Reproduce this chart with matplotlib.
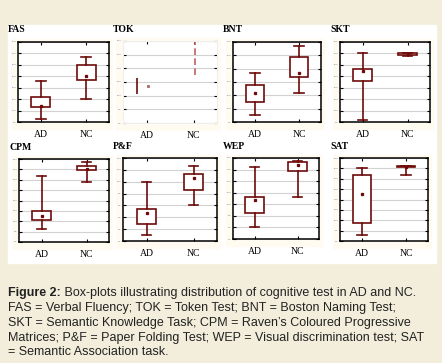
import matplotlib
matplotlib.use("Agg")
import matplotlib.pyplot as plt
import numpy as np
from matplotlib.patches import Rectangle

W, H = 442, 363

# data: [whisker low, q1, mean, q3, whisker high] per group
tests = ["FAS", "TOK", "BNT", "SKT", "CPM", "P&F", "WEP", "SAT"]
groups = ["AD", "NC"]
ymax = [70, 36, 60, 70, 40, 14, 28, 48]
ystep = [10, 6, 10, 10, 5, 2, 4, 6]
ad_stats = [
    [3, 13, 14, 22, 36],
    [12.6, 16.2, 16.2, 16.2, 19.9],
    [5, 15, 22, 28, 37],
    [2, 36, 45, 46, 60],
    [6.3, 10.4, 12.3, 14.9, 32],
    [1.0, 2.8, 4.7, 5.4, 9.9],
    [4.0, 8.9, 13.4, 14.4, 24.8],
    [3.5, 10.6, 27.1, 38.3, 42.5],
]
nc_stats = [
    [20, 37, 40, 50, 57],
    [21, 36, 36, 36, 36],
    [22, 34, 37, 49, 57],
    [57.7, 58.3, 59.5, 60.6, 60.6],
    [28.8, 34.5, 35.4, 36.5, 38.4],
    [6.1, 8.6, 10.7, 11.3, 12.7],
    [14.4, 23.5, 25.6, 26.6, 26.9],
    [38, 42.7, 43, 43.3, 43.3],
]

# axes boxes in pixels (left, top, right, bottom)
boxes = [
    (18, 42, 109, 122), (123, 41, 217, 123), (233, 42, 321, 122), (340, 42, 430, 122),
    (19, 159, 109, 242), (123, 158, 217, 241), (233, 158, 319, 239), (340, 158, 428, 241),
]

red = "#6e0a0a"
bg = "#f2eedb"
cream = "#fffbf0"


def px(l, t, r, b):
    return [l / W, 1 - b / H, (r - l) / W, (b - t) / H]


fig = plt.figure(figsize=(W / 100, H / 100), dpi=100, facecolor=bg)
# white panel behind the plots
fig.patches.append(Rectangle((8 / W, 1 - 263 / H), 428 / W, 238 / H,
                             transform=fig.transFigure, color="white", zorder=-2))

for i, name in enumerate(tests):
    l, t, r, b = boxes[i]
    fig.patches.append(Rectangle(((l - 7) / W, 1 - (b + 7) / H), (r - l + 10) / W, (b - t + 10) / H,
                                 transform=fig.transFigure, color=cream, zorder=-1))
    ax = fig.add_axes(px(l, t, r, b))
    ax.set_facecolor("white")
    ax.set_ylim(0, ymax[i])
    ax.set_yticks(np.arange(0, ymax[i] + 0.01, ystep[i]))
    ax.set_yticklabels([str(v) for v in np.arange(0, ymax[i] + 0.01, ystep[i])], fontsize=1.5, color="#5a6aa0")
    ax.tick_params(axis="x", length=2, pad=6, top=True, direction="in")
    ax.tick_params(axis="y", length=2, pad=1, right=True, direction="in")
    ax.grid(axis="y", color="#d2d2d2", lw=0.8)
    ax.set_axisbelow(True)
    fig.text((l - 10) / W, 1 - (t - 12) / H, name, fontsize=7, fontweight="bold",
             family="Liberation Serif", va="center", ha="left")

    if name == "TOK":
        for s in ax.spines.values():
            s.set_color("#eeeeee")
        ax.vlines(0.8, ad_stats[i][0], ad_stats[i][4], color=red, lw=1.2)
        ax.plot(1.03, ad_stats[i][2], "s", color="#b07070", ms=1.2)
        ax.vlines(2.03, nc_stats[i][0], nc_stats[i][4], color="#c06060", lw=1.2, linestyles=(0, (4, 2)))
    else:
        for s in ax.spines.values():
            s.set_color("black")
            s.set_linewidth(1.1)
        stats = []
        for st, lab in zip([ad_stats[i], nc_stats[i]], groups):
            stats.append(dict(whislo=st[0], q1=st[1], mean=st[2], med=st[2], q3=st[3], whishi=st[4],
                              label=lab, fliers=[]))
        ax.bxp(stats, positions=[1, 2], widths=0.42, showmeans=True, showfliers=False, patch_artist=True,
               boxprops=dict(facecolor="white", edgecolor=red, lw=1.2),
               whiskerprops=dict(color=red, lw=1.2),
               capprops=dict(color=red, lw=1.2), capwidths=0.21,
               medianprops=dict(lw=0, color="none"),
               meanprops=dict(marker="s", markersize=1.4, markerfacecolor=red, markeredgecolor=red))
    ax.set_xlim(0.5, 2.5)
    ax.set_xticks([1, 2])
    ax.set_xticklabels(groups, fontsize=7, family="Liberation Serif")

# caption
cap_lines = [
    " Box-plots illustrating distribution of cognitive test in AD and NC.",
    "FAS = Verbal Fluency; TOK = Token Test; BNT = Boston Naming Test;",
    "SKT = Semantic Knowledge Task; CPM = Raven\u2019s Coloured Progressive",
    "Matrices; P&F = Paper Folding Test; WEP = Visual discrimination test; SAT",
    "= Semantic Association task.",
]
cap_y = [293, 308, 323, 338, 352]
fs = 9
t0 = fig.text(8 / W, 1 - cap_y[0] / H, "Figure 2:", fontsize=fs, fontweight="bold",
              family="Liberation Sans", va="center", color="#222222")
fig.canvas.draw()
bb = t0.get_window_extent()
fig.text(bb.x1 / W, 1 - cap_y[0] / H, cap_lines[0], fontsize=fs, family="Liberation Sans",
         va="center", color="#222222")
for line, y in zip(cap_lines[1:], cap_y[1:]):
    fig.text(8 / W, 1 - y / H, line, fontsize=fs, family="Liberation Sans", va="center", color="#222222")

fig.savefig("out.png", dpi=100, facecolor=bg)
